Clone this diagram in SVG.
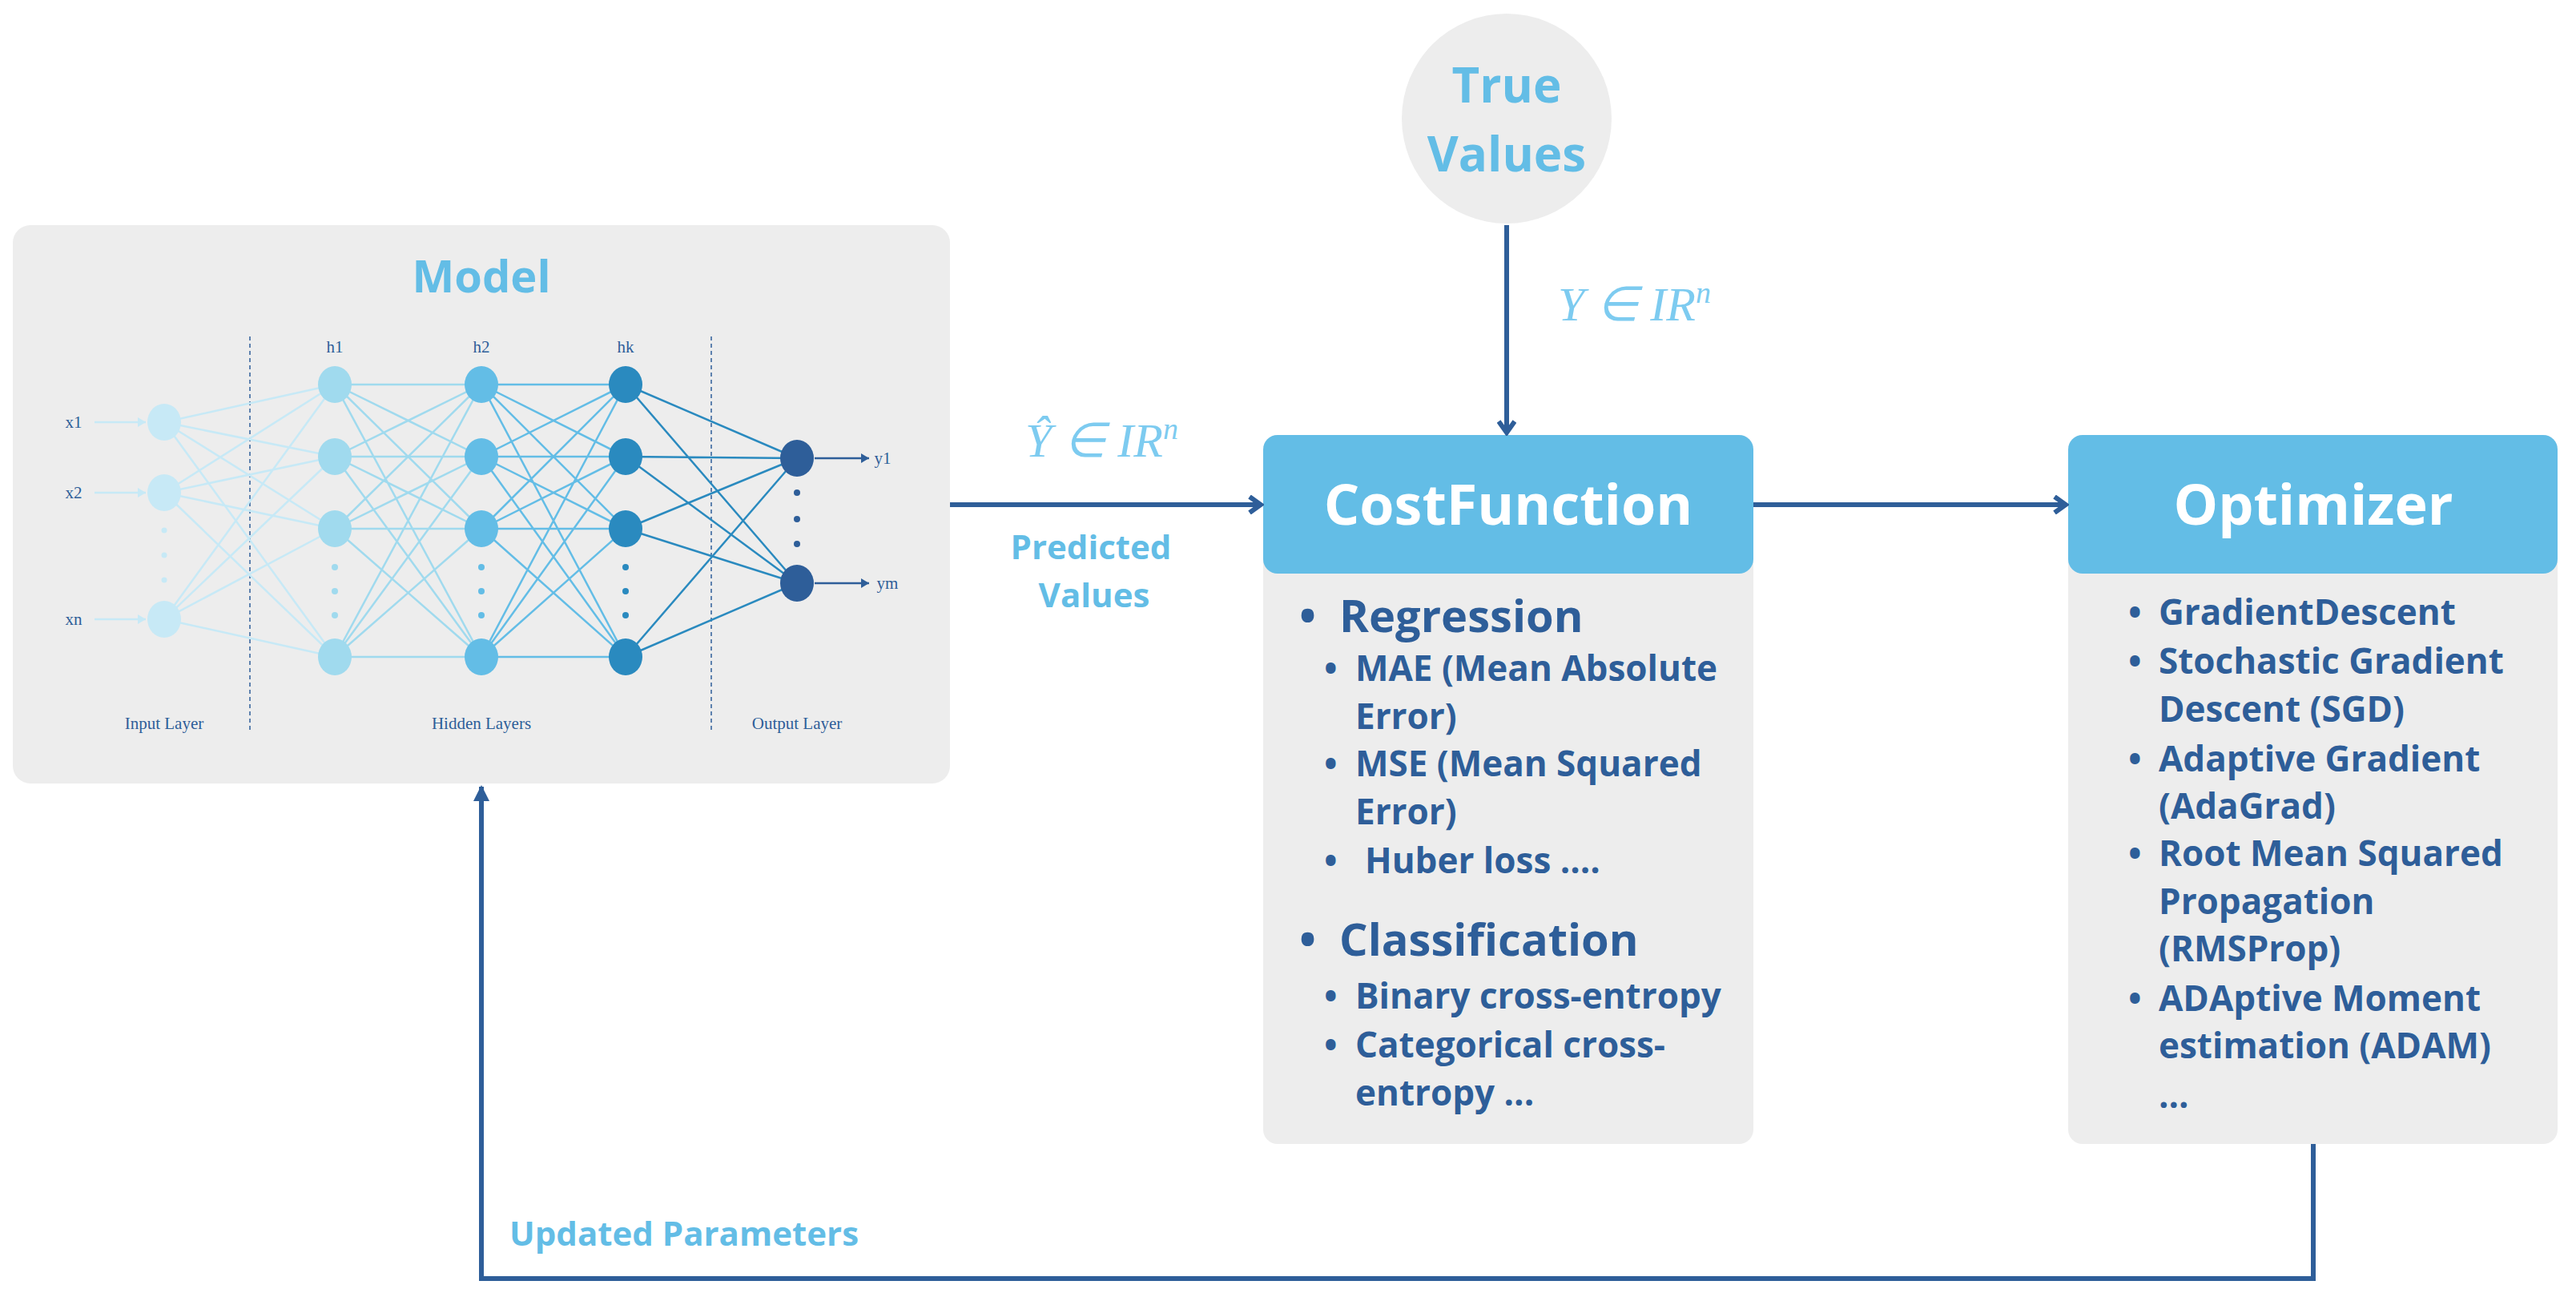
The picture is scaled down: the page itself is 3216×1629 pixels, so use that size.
<svg xmlns="http://www.w3.org/2000/svg" width="3216" height="1629" viewBox="0 0 3216 1629">
<defs>
<marker id="big" markerWidth="24" markerHeight="24" refX="20" refY="12" orient="auto" markerUnits="userSpaceOnUse"><path d="M6,2 L20,12 L6,22" fill="none" stroke="#2E5E99" stroke-width="6"/></marker>
<marker id="tri" markerWidth="24" markerHeight="24" refX="20" refY="12" orient="auto" markerUnits="userSpaceOnUse"><path d="M2,2 L22,12 L2,22 Z" fill="#2E5E99"/></marker>
<marker id="sm" markerWidth="12" markerHeight="12" refX="10" refY="6" orient="auto" markerUnits="userSpaceOnUse"><path d="M0,0 L10,6 L0,12 Z" fill="#C7E9F6"/></marker>
<marker id="smd" markerWidth="12" markerHeight="12" refX="10" refY="6" orient="auto" markerUnits="userSpaceOnUse"><path d="M0,0 L10,6 L0,12 Z" fill="#2E5E99"/></marker>
</defs>
<style>
.box{fill:#EDEDED}
.hdr{fill:#63BDE6}
.ttl{font-family:"Open Sans",sans-serif;font-weight:700;fill:#fff;font-size:70px;text-anchor:middle}
.lt{font-family:"Open Sans",sans-serif;font-weight:700;fill:#63BDE6;text-anchor:middle}
.lts{font-family:"Open Sans",sans-serif;font-weight:700;fill:#63BDE6;text-anchor:start}
.it{font-family:"Open Sans",sans-serif;font-weight:700;fill:#2E5E99;font-size:44px}
.hd{font-family:"Open Sans",sans-serif;font-weight:700;fill:#2E5E99;font-size:56px}
.nn{font-family:"Liberation Serif",serif;fill:#2E5E99;font-size:21px;text-anchor:middle}
.math{font-family:"Liberation Serif",serif;font-style:italic;fill:#7DCBF0;font-size:60px}
.conn{fill:none;stroke:#2E5E99;stroke-width:6}
</style>
<rect width="3216" height="1629" fill="#fff"/>
<g id="model">
<rect class="box" x="16" y="281" width="1170" height="697" rx="22"/>
<text class="lt" x="601" y="365" font-size="56">Model</text>
<line x1="312" y1="420" x2="312" y2="913" stroke="#2E5E99" stroke-width="1.5" stroke-dasharray="5,4"/>
<line x1="888" y1="420" x2="888" y2="913" stroke="#2E5E99" stroke-width="1.5" stroke-dasharray="5,4"/>
<text class="nn" x="418" y="440">h1</text><text class="nn" x="601" y="440">h2</text><text class="nn" x="781" y="440">hk</text>
<text class="nn" x="205" y="910">Input Layer</text><text class="nn" x="601" y="910">Hidden Layers</text><text class="nn" x="995" y="910">Output Layer</text>
<text class="nn" x="92" y="534">x1</text><text class="nn" x="92" y="622">x2</text><text class="nn" x="92" y="780">xn</text>
<g stroke="#C7E9F6" stroke-width="2.5"><line x1="118" y1="527" x2="182" y2="527" marker-end="url(#sm)"/><line x1="118" y1="615" x2="182" y2="615" marker-end="url(#sm)"/><line x1="118" y1="773" x2="182" y2="773" marker-end="url(#sm)"/></g>
<path fill="none" stroke="#C7E9F6" stroke-width="2.5" d="M205 527L418 480M205 527L418 570M205 527L418 660M205 527L418 820M205 615L418 480M205 615L418 570M205 615L418 660M205 615L418 820M205 773L418 480M205 773L418 570M205 773L418 660M205 773L418 820"/>
<path fill="none" stroke="#A0DAEE" stroke-width="2.5" d="M418 480L601 480M418 480L601 570M418 480L601 660M418 480L601 820M418 570L601 480M418 570L601 570M418 570L601 660M418 570L601 820M418 660L601 480M418 660L601 570M418 660L601 660M418 660L601 820M418 820L601 480M418 820L601 570M418 820L601 660M418 820L601 820"/>
<path fill="none" stroke="#63BDE6" stroke-width="2.5" d="M601 480L781 480M601 480L781 570M601 480L781 660M601 480L781 820M601 570L781 480M601 570L781 570M601 570L781 660M601 570L781 820M601 660L781 480M601 660L781 570M601 660L781 660M601 660L781 820M601 820L781 480M601 820L781 570M601 820L781 660M601 820L781 820"/>
<path fill="none" stroke="#2A8ABF" stroke-width="2.5" d="M781 480L995 572M781 480L995 728M781 570L995 572M781 570L995 728M781 660L995 572M781 660L995 728M781 820L995 572M781 820L995 728"/>
<g fill="#C7E9F6"><ellipse cx="205" cy="527" rx="21" ry="23"/><ellipse cx="205" cy="615" rx="21" ry="23"/><ellipse cx="205" cy="773" rx="21" ry="23"/><circle cx="205" cy="662" r="3.5"/><circle cx="205" cy="693" r="3.5"/><circle cx="205" cy="724" r="3.5"/></g>
<g fill="#A0DAEE"><ellipse cx="418" cy="480" rx="21" ry="23"/><ellipse cx="418" cy="570" rx="21" ry="23"/><ellipse cx="418" cy="660" rx="21" ry="23"/><ellipse cx="418" cy="820" rx="21" ry="23"/><circle cx="418" cy="708" r="4"/><circle cx="418" cy="738" r="4"/><circle cx="418" cy="768" r="4"/></g>
<g fill="#63BDE6"><ellipse cx="601" cy="480" rx="21" ry="23"/><ellipse cx="601" cy="570" rx="21" ry="23"/><ellipse cx="601" cy="660" rx="21" ry="23"/><ellipse cx="601" cy="820" rx="21" ry="23"/><circle cx="601" cy="708" r="4"/><circle cx="601" cy="738" r="4"/><circle cx="601" cy="768" r="4"/></g>
<g fill="#2A8ABF"><ellipse cx="781" cy="480" rx="21" ry="23"/><ellipse cx="781" cy="570" rx="21" ry="23"/><ellipse cx="781" cy="660" rx="21" ry="23"/><ellipse cx="781" cy="820" rx="21" ry="23"/><circle cx="781" cy="708" r="4"/><circle cx="781" cy="738" r="4"/><circle cx="781" cy="768" r="4"/></g>
<g fill="#2E5E99"><ellipse cx="995" cy="572" rx="21" ry="23"/><ellipse cx="995" cy="728" rx="21" ry="23"/><circle cx="995" cy="615" r="4"/><circle cx="995" cy="648" r="4"/><circle cx="995" cy="679" r="4"/></g>
<g stroke="#2E5E99" stroke-width="2.5"><line x1="1017" y1="572" x2="1085" y2="572" marker-end="url(#smd)"/><line x1="1017" y1="728" x2="1085" y2="728" marker-end="url(#smd)"/></g>
<text class="nn" x="1102" y="579">y1</text><text class="nn" x="1108" y="735">ym</text>
</g>
<g id="truevalues">
<circle cx="1881" cy="148" r="131" fill="#EDEDED"/>
<text class="lt" x="1881" y="128" font-size="60">True</text>
<text class="lt" x="1881" y="214" font-size="60">Values</text>
</g>
<g id="costfunction">
<rect class="box" x="1577" y="543" width="612" height="885" rx="18"/>
<rect class="hdr" x="1577" y="543" width="612" height="173" rx="18"/>
<text class="ttl" x="1883" y="655">CostFunction</text>
<g class="hd"><text x="1622" y="789">•</text><text x="1672" y="789">Regression</text><text x="1622" y="1193">•</text><text x="1672" y="1193">Classification</text></g>
<g class="it">
<text x="1653" y="850">•</text><text x="1692" y="850">MAE (Mean Absolute</text><text x="1692" y="910">Error)</text>
<text x="1653" y="969">•</text><text x="1692" y="969">MSE (Mean Squared</text><text x="1692" y="1029">Error)</text>
<text x="1653" y="1090">•</text><text x="1704" y="1090">Huber loss  ....</text>
<text x="1653" y="1259">•</text><text x="1692" y="1259">Binary cross-entropy</text>
<text x="1653" y="1320">•</text><text x="1692" y="1320">Categorical cross-</text><text x="1692" y="1380">entropy ...</text>
</g>
</g>
<g id="optimizer">
<rect class="box" x="2582" y="543" width="611" height="885" rx="18"/>
<rect class="hdr" x="2582" y="543" width="611" height="173" rx="18"/>
<text class="ttl" x="2888" y="655">Optimizer</text>
<g class="it" font-size="43">
<text x="2657" y="780">•</text><text x="2695" y="780">GradientDescent</text>
<text x="2657" y="841">•</text><text x="2695" y="841">Stochastic Gradient</text><text x="2695" y="901">Descent (SGD)</text>
<text x="2657" y="963">•</text><text x="2695" y="963">Adaptive Gradient</text><text x="2695" y="1022">(AdaGrad)</text>
<text x="2657" y="1081">•</text><text x="2695" y="1081">Root Mean Squared</text><text x="2695" y="1141">Propagation</text><text x="2695" y="1200">(RMSProp)</text>
<text x="2657" y="1262">•</text><text x="2695" y="1262">ADAptive Moment</text><text x="2695" y="1321">estimation (ADAM)</text>
<text x="2695" y="1383">...</text>
</g>
</g>
<g id="connectors">
<line class="conn" x1="1881" y1="281" x2="1881" y2="540" marker-end="url(#big)"/>
<line class="conn" x1="1186" y1="630" x2="1574" y2="630" marker-end="url(#big)"/>
<line class="conn" x1="2189" y1="630" x2="2579" y2="630" marker-end="url(#big)"/>
<polyline class="conn" points="2888,1428 2888,1596 601,1596 601,982" marker-end="url(#tri)"/>
</g>
<g id="labels">
<text class="math" x="1280" y="570">Ŷ ∈ IR<tspan font-size="38" dy="-22">n</tspan></text>
<text class="math" x="1945" y="400">Y ∈ IR<tspan font-size="38" dy="-22">n</tspan></text>
<text class="lt" x="1362" y="698" font-size="42">Predicted</text>
<text class="lt" x="1366" y="758" font-size="42">Values</text>
<text class="lts" x="636" y="1555" font-size="42">Updated Parameters</text>
</g>
</svg>
